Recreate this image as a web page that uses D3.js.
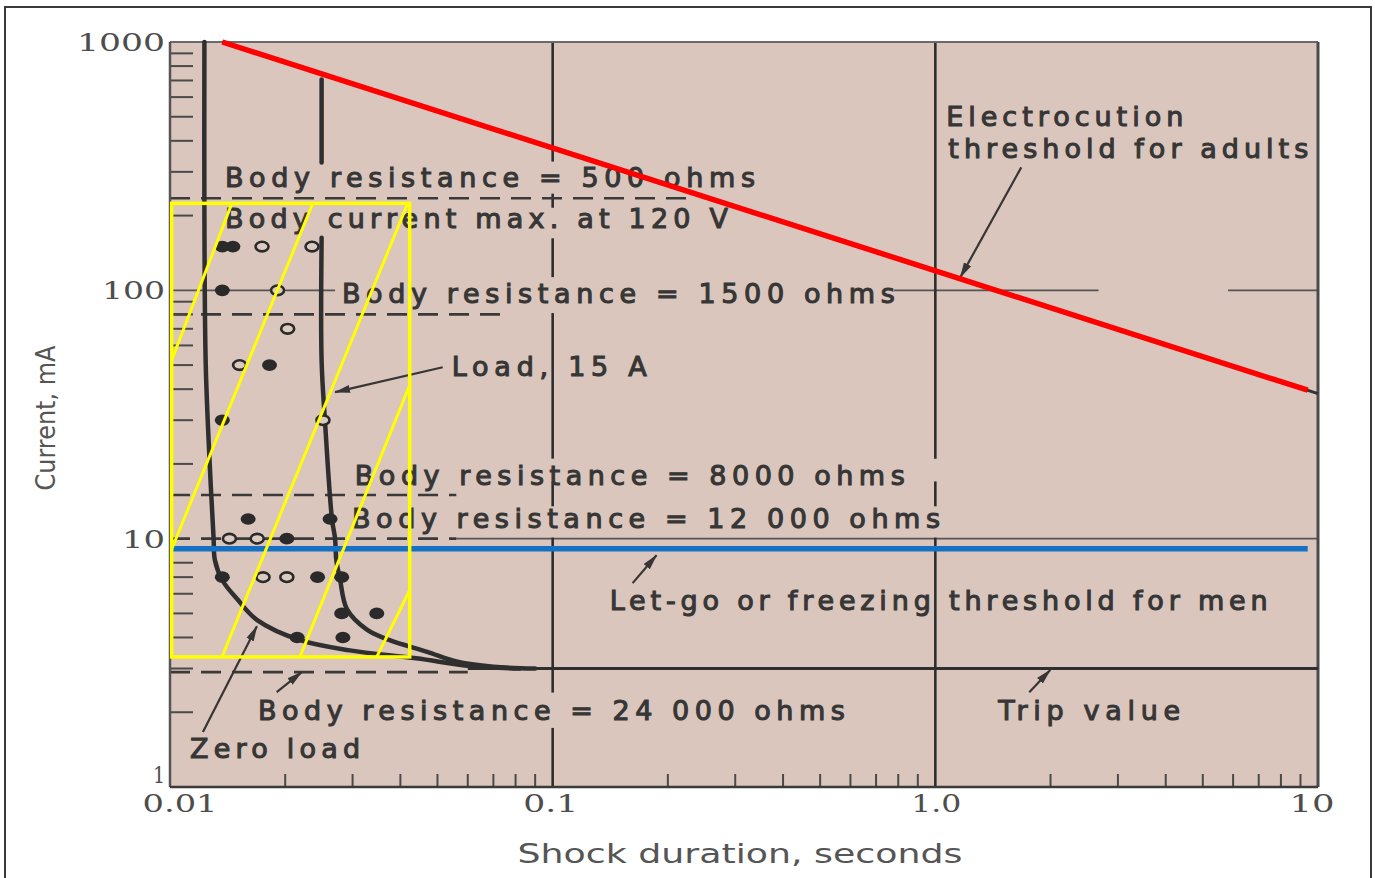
<!DOCTYPE html>
<html><head><meta charset="utf-8">
<script src="https://cdn.jsdelivr.net/npm/d3@7"></script>
<style>body{margin:0;background:#fff;} svg{display:block;}</style>
</head><body>
<svg id="c" width="1375" height="878"></svg>
<script>
// ================= DATA =================
const xTicks = [0.01, 0.1, 1, 10];
const xTickLabels = ["0.01", "0.1", "1.0", "10"];
const yTicks = [1, 10, 100, 1000];
const yTickLabels = ["1", "10", "100", "1000"];
const xMinor = [0.02,0.03,0.04,0.05,0.06,0.07,0.08,0.09,0.2,0.3,0.4,0.5,0.6,0.7,0.8,0.9,2,3,4,5,6,7,8,9];
const yMinor = [2,3,4,5,6,7,8,9,20,30,40,50,60,70,80,90,200,300,400,500,600,700,800,900];

// Zero-load release curve (seconds, mA)
const zeroLoadT = [0.0123,0.0123,0.0124,0.0127,0.0130,0.0131,0.0137,0.0150,0.0169,0.0219,0.0295,0.0440,0.0610,0.0820];
const zeroLoadI = [1000,200,50,20,10,8.2,6.8,5.7,4.7,3.9,3.55,3.3,3.07,3.0];
// Load 15 A curve
const loadTopT = [0.0249,0.0249];
const loadTopI = [706,327];
const loadT = [0.0249,0.0249,0.0254,0.0265,0.0270,0.0272,0.0278,0.0290,0.0327,0.0375,0.0470,0.0560,0.0700,0.0900];
const loadI = [163,52,30,12,10,8.2,6.9,5.2,4.3,3.9,3.5,3.2,3.05,3.0];
// Trip value
const tripT = [0.06, 10];
const tripI = [3.0, 3.0];
// Electrocution threshold (printed line and red overlay)
const electroT = [0.0137, 10];
const electroI = [1000, 38.4];
const redT = [0.0137, 9.4];
const redI = [1000, 39.6];
// Let-go threshold (blue)
const letGoT = [0.01, 9.4];
const letGoI = [9.1, 9.1];
// Body resistance dashed levels (mA) and where dashes end (s)
const resLevelI = [235, 80, 15, 10, 2.9];
const resLevelEndT = [0.228, 0.073, 0.056, 0.056, 0.060];
// Thin horizontal grid segments
const grid100T = [[0.01, 0.027], [0.78, 2.67], [5.82, 10]];
const grid10T = [[0.056, 10]];
// Vertical grid segments (mA ranges)
const grid01I = [[330,1000],[215,245],[113,162],[21,81],[13.5,17],[2.4,10.1],[1,1.73]];
const grid1I = [[21,1000],[13.5,17],[1,10.1]];
// Measured points
const filledT = [0.0137,0.0146,0.0137,0.0182,0.0137,0.0160,0.0262,0.0202,0.0137,0.0243,0.0281,0.0281,0.0347,0.0215,0.0283];
const filledI = [150,150,100,50,30,12,12,10,7,7,7,5,5,4,4];
const openT = [0.0174,0.0235,0.0191,0.0203,0.0152,0.0251,0.0143,0.0169,0.0175,0.0202];
const openI = [150,150,100,70,50,30,10,10,7,7];
// Yellow highlight box and hatch
const boxT = [0.0101, 0.0423];
const boxI = [3.34, 224];
const hatchT = [[0.0101,0.01451],[0.0101,0.02361],[0.01367,0.0418],[0.02185,0.0423],[0.0347,0.0423]];
const hatchI = [[52.3,224],[9.07,224],[3.34,224],[3.34,41.5],[3.34,6.2]];
// Annotations
const annText = ["Body resistance = 500 ohms","Body current max. at 120 V","Body resistance = 1500 ohms","Load, 15 A","Body resistance = 8000 ohms","Body resistance = 12 000 ohms","Let-go or freezing threshold for men","Body resistance = 24 000 ohms","Zero load","Trip value","Electrocution","threshold for adults"];
const annT = [0.01392,0.01392,0.02813,0.0545,0.0304,0.0299,0.1409,0.01697,0.01128,1.46,1.068,1.081];
const annI = [259.8,177.6,88.7,45.1,16.4,11.0,5.16,1.86,1.31,1.86,461,340];
// Leader arrows [from, to]
const arrowT = [[1.677,1.162],[0.0516,0.027],[0.01219,0.01687],[0.1618,0.1868],[0.019,0.0221],[1.76,1.997]];
const arrowI = [[312.7,112.8],[49.0,38.9],[1.665,4.44],[6.62,8.58],[2.41,2.90],[2.41,2.96]];
const xTitle = "Shock duration, seconds";
const yTitle = "Current, mA";

// ================= STYLE =================
const annWidth = [530,503,553,195,550,588,658,587,170,182,237,360];
const INK = "#363636";

// ================= DRAW =================
const svg = d3.select("#c");
const x = d3.scaleLog().domain([0.01, 10]).range([170, 1318]);
const y = d3.scaleLog().domain([1, 1000]).range([787, 42]);
const zip = (a, b) => a.map((v, i) => [v, b[i]]);
const line = d3.line().x(d => x(d[0])).y(d => y(d[1]));
const curve = d3.line().x(d => x(d[0])).y(d => y(d[1])).curve(d3.curveCatmullRom.alpha(0.5));

const defs = svg.append("defs");
defs.append("marker").attr("id","arr").attr("viewBox","0 0 16 10").attr("refX",15).attr("refY",5)
  .attr("markerWidth",16).attr("markerHeight",10).attr("markerUnits","userSpaceOnUse").attr("orient","auto")
  .append("path").attr("d","M0,1 L16,5 L0,9 Z").attr("fill",INK);

// outer frame
svg.append("rect").attr("x",5).attr("y",7).attr("width",1366).attr("height",890)
  .attr("fill","none").attr("stroke","#3a3a3a").attr("stroke-width",2);

// plot background
svg.append("rect").attr("x",x(0.01)).attr("y",y(1000)).attr("width",x(10)-x(0.01)).attr("height",y(1)-y(1000))
  .attr("fill","#dac6bc");

const g = svg.append("g");

// thin horizontal grids
grid100T.forEach(s => g.append("path").attr("d", line([[s[0],100],[s[1],100]])).attr("stroke","#555").attr("stroke-width",1.8).attr("fill","none"));
grid10T.forEach(s => g.append("path").attr("d", line([[s[0],10],[s[1],10]])).attr("stroke","#555").attr("stroke-width",1.6).attr("fill","none"));
// vertical grids
grid01I.forEach(s => g.append("path").attr("d", line([[0.1,s[0]],[0.1,s[1]]])).attr("stroke","#2e2e2e").attr("stroke-width",2.6).attr("fill","none"));
grid1I.forEach(s => g.append("path").attr("d", line([[1,s[0]],[1,s[1]]])).attr("stroke","#2e2e2e").attr("stroke-width",2.6).attr("fill","none"));

// dashed body resistance lines
resLevelI.forEach((v, i) => g.append("path").attr("d", line([[0.01, v],[resLevelEndT[i], v]]))
  .attr("stroke","#3a3a3a").attr("stroke-width",2.6).attr("stroke-dasharray","20,11").attr("fill","none"));

// minor ticks
g.selectAll(".ym").data(yMinor).join("line").attr("x1",x(0.01)).attr("x2",x(0.01)+23)
  .attr("y1",d=>y(d)).attr("y2",d=>y(d)).attr("stroke","#4a4a4a").attr("stroke-width",2);
g.selectAll(".xm").data(xMinor).join("line").attr("x1",d=>x(d)).attr("x2",d=>x(d))
  .attr("y1",y(1)).attr("y2",y(1)-13).attr("stroke","#4a4a4a").attr("stroke-width",2);

// plot frame
g.append("line").attr("x1",x(0.01)).attr("x2",x(10)).attr("y1",y(1000)).attr("y2",y(1000)).attr("stroke","#6a6a6a").attr("stroke-width",2.2);
g.append("line").attr("x1",x(0.01)).attr("x2",x(0.01)).attr("y1",y(1000)).attr("y2",y(1)).attr("stroke","#555").attr("stroke-width",2.5);
g.append("line").attr("x1",x(10)).attr("x2",x(10)).attr("y1",y(1000)).attr("y2",y(1)).attr("stroke","#4a4a4a").attr("stroke-width",3);
g.append("line").attr("x1",x(0.01)).attr("x2",x(10)).attr("y1",y(1)).attr("y2",y(1)).attr("stroke","#3a3a3a").attr("stroke-width",2.5);

// curves
const curveStyle = s => s.attr("fill","none").attr("stroke","#2f2f2f").attr("stroke-width",4.5).attr("stroke-linecap","round");
g.append("path").attr("d", curve(zip(zeroLoadT, zeroLoadI))).call(curveStyle);
g.append("path").attr("d", line(zip(loadTopT, loadTopI))).call(curveStyle);
g.append("path").attr("d", curve(zip(loadT, loadI))).call(curveStyle);
g.append("path").attr("d", line(zip(tripT, tripI))).attr("fill","none").attr("stroke","#2f2f2f").attr("stroke-width",3.2);
g.append("path").attr("d", line(zip(electroT, electroI))).attr("fill","none").attr("stroke","#333").attr("stroke-width",3);

// markers
g.selectAll(".fd").data(zip(filledT, filledI)).join("ellipse").attr("cx",d=>x(d[0])).attr("cy",d=>y(d[1]))
  .attr("rx",7.5).attr("ry",5.8).attr("fill","#2a2a2a");
g.selectAll(".od").data(zip(openT, openI)).join("ellipse").attr("cx",d=>x(d[0])).attr("cy",d=>y(d[1]))
  .attr("rx",6.5).attr("ry",4.8).attr("fill","#dccbc0").attr("stroke","#2a2a2a").attr("stroke-width",2.6);

// annotation text
annText.forEach((t, i) => g.append("text").attr("x", x(annT[i])).attr("y", y(annI[i])).text(t)
  .attr("textLength", annWidth[i]).attr("font-family","DejaVu Sans, sans-serif").attr("font-size",27)
  .attr("fill",INK).attr("stroke",INK).attr("stroke-width",1.1));

// leader arrows
arrowT.forEach((a, i) => g.append("path").attr("d", line([[a[0], arrowI[i][0]],[a[1], arrowI[i][1]]]))
  .attr("stroke",INK).attr("stroke-width",2.2).attr("fill","none").attr("marker-end","url(#arr)"));

// tick labels
g.selectAll(".yl").data(yTicks).join("text").attr("x",165).attr("y",d=>Math.min(y(d)+9, 783))
  .attr("text-anchor","end").text((d,i)=>yTickLabels[i])
  .attr("font-family","DejaVu Serif, serif").attr("font-size",(d,i)=>i===0?22:25).attr("fill","#4d4d4d")
  .attr("textLength",(d,i)=>[12,43,63,88][i]).attr("lengthAdjust","spacingAndGlyphs");
g.selectAll(".xl").data(xTicks).join("text").attr("x",(d,i)=>x(d)+[10,-2,1,-6][i]).attr("y",812)
  .attr("text-anchor","middle").text((d,i)=>xTickLabels[i])
  .attr("font-family","DejaVu Serif, serif").attr("font-size",25).attr("fill","#4d4d4d")
  .attr("textLength",(d,i)=>[75,55,50,45][i]).attr("lengthAdjust","spacingAndGlyphs");

// axis titles
svg.append("text").attr("x",740).attr("y",863).attr("text-anchor","middle").text(xTitle)
  .attr("font-family","DejaVu Sans, sans-serif").attr("font-size",26).attr("fill","#555")
  .attr("textLength",445).attr("lengthAdjust","spacingAndGlyphs");
svg.append("text").attr("transform","translate(55,418) rotate(-90)").attr("text-anchor","middle").text(yTitle)
  .attr("font-family","DejaVu Sans, sans-serif").attr("font-size",27).attr("fill","#555")
  .attr("textLength",145).attr("lengthAdjust","spacingAndGlyphs");

// overlays: blue, red, yellow
g.append("path").attr("d", line(zip(letGoT, letGoI))).attr("fill","none").attr("stroke","#1670c4").attr("stroke-width",5.5);
g.append("path").attr("d", line(zip(redT, redI))).attr("fill","none").attr("stroke","#ff0000").attr("stroke-width",5.5);
g.append("rect").attr("x",x(boxT[0])).attr("y",y(boxI[1])).attr("width",x(boxT[1])-x(boxT[0])).attr("height",y(boxI[0])-y(boxI[1]))
  .attr("fill","none").attr("stroke","#ffff00").attr("stroke-width",3.5);
hatchT.forEach((h, i) => g.append("path").attr("d", line(zip(h, hatchI[i])))
  .attr("fill","none").attr("stroke","#ffff00").attr("stroke-width",3));
</script>
</body></html>
